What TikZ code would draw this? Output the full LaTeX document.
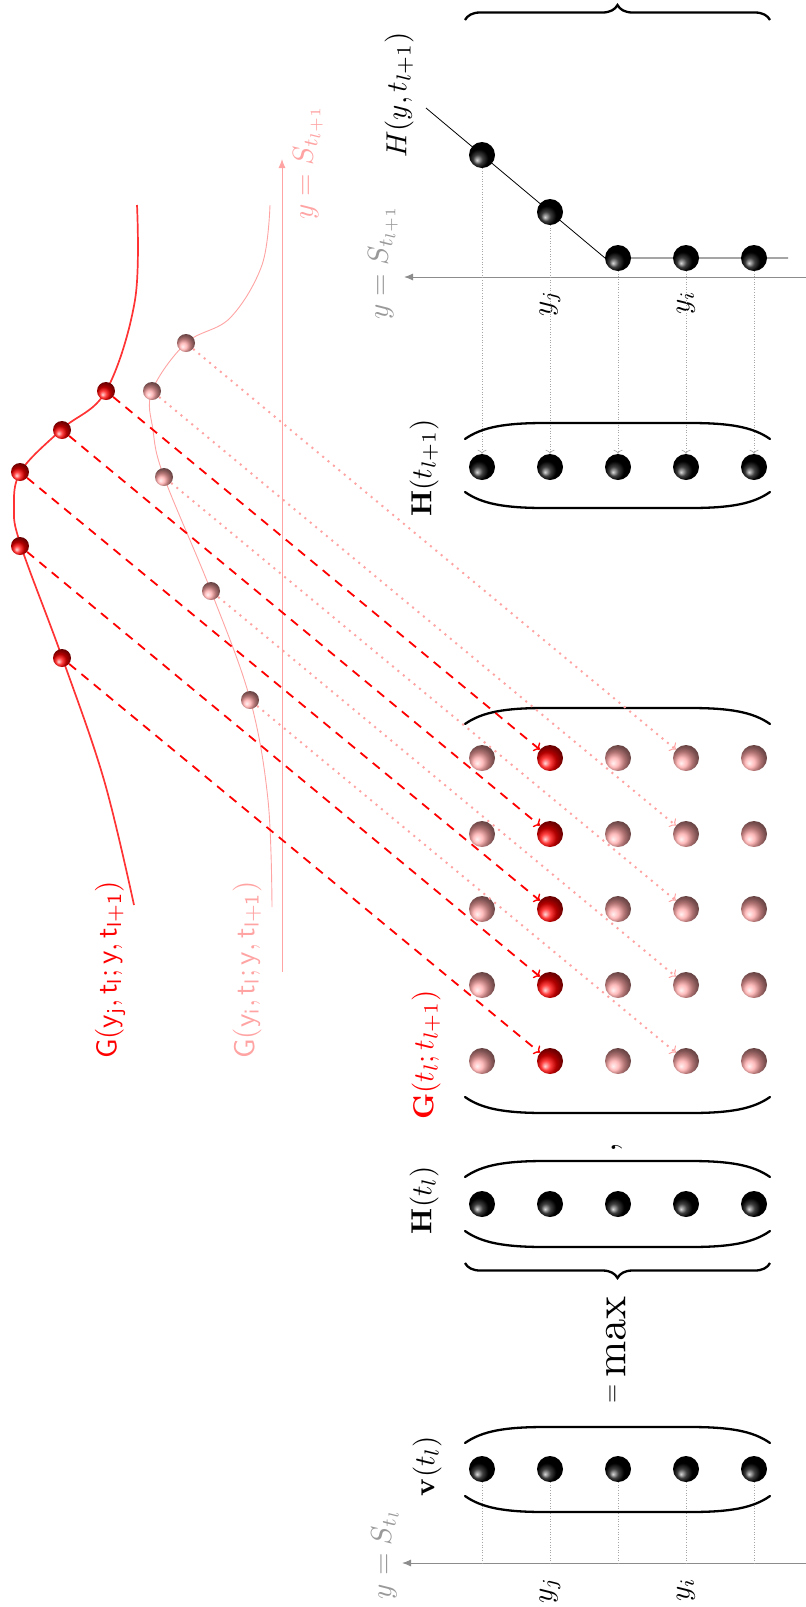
\documentclass[tikz,border=0pt]{standalone}
\usetikzlibrary{arrows.meta,decorations.pathreplacing}
\definecolor{pinkc}{rgb}{1,0.64,0.64}
\definecolor{curvered}{rgb}{1,0.2,0.2}
\definecolor{axisgray}{gray}{0.55}
\definecolor{labgray}{gray}{0.6}
\tikzset{
  lab/.style={rotate=90, scale=2.9, inner sep=0pt},
  bigball/.style={circle, inner sep=0pt, minimum size=26pt, shading angle=90},
  smallball/.style={circle, inner sep=0pt, minimum size=18pt, shading angle=90},
  vparen/.style={line width=2.3pt, line cap=round},
  bigbrace/.style={line width=2.3pt, decorate, decoration={brace, amplitude=15pt}},
  axisline/.style={draw=axisgray, line width=1pt, -{Latex[length=9pt,width=7pt]}},
  guide/.style={draw=gray!70, line width=0.8pt, dash pattern=on 0.8pt off 1.8pt},
  guidearrow/.style={guide, -{Computer Modern Rightarrow[length=4pt,width=9pt,line width=0.7pt]}},
  redlink/.style={draw=red, line width=1.8pt, dash pattern=on 9pt off 7pt,
    -{Computer Modern Rightarrow[length=5pt,width=11pt,line width=1.4pt]}},
  pinklink/.style={draw=pinkc, line width=2pt, dash pattern=on 2pt off 5pt,
    -{Computer Modern Rightarrow[length=5pt,width=11pt,line width=1pt]}}
}
% parentheses around a horizontal row of balls: top flat y, bottom flat y
\newcommand\rowparens[2]{%
  \draw[vparen] (465,#1+16) .. controls (482,#1+4) and (505,#1) .. (545,#1)
     -- (690,#1) .. controls (730,#1) and (753,#1+4) .. (770,#1+16);
  \draw[vparen] (465,#2-16) .. controls (482,#2-4) and (505,#2) .. (545,#2)
     -- (690,#2) .. controls (730,#2) and (753,#2-4) .. (770,#2-16);
}
\begin{document}
\begin{tikzpicture}[x=1pt,y=-1pt]
\useasboundingbox (0,0) rectangle (806,1607);

% ---------- value function H(y,t_{l+1}) ----------
\coordinate (topaxR) at (806,277);
\coordinate (topaxL) at (404,277);
\draw[axisline] (topaxR) -- (topaxL);
\node[lab, text=labgray] at (383,262) {$y=S_{t_{l+1}}$};
\draw[line width=0.8pt] (426,108) -- (605,258) -- (788,258);
\node[lab] at (399,95) {$H(y,t_{l+1})$};
\node[lab] at (550,303) {$y_j$};
\node[lab] at (686,303) {$y_i$};
\foreach \i/\x/\y in {1/482/155,2/550/212,3/618/258,4/686/258,5/754/258}
  \node[bigball, ball color=black] (p\i) at (\x,\y) {};

% ---------- H(t_{l+1}) ----------
\node[lab] at (424,468) {$\mathbf{H}(t_{l+1})$};
\foreach \i/\x in {1/482,2/550,3/618,4/686,5/754}{
  \node[bigball, ball color=black] (h\i) at (\x,467) {};
  \draw[guidearrow] (p\i) -- (h\i);
}
\rowparens{423}{508}
\draw[bigbrace] (465,20) -- (770,20);

% ---------- transition densities ----------
\draw[curvered, line width=1.7pt] plot[smooth, tension=0.6] coordinates
  {(137,205) (135,300) (106,391) (62,429) (21,471) (14,508) (21,546) (62,657) (104,780) (134,905)};
\draw[pinkc, line width=0.9pt] plot[smooth, tension=0.6] coordinates
  {(270,205) (262,265) (230,318) (186,343) (152,391) (153,430) (164,477) (211,591) (250,699) (268,800) (272,907)};
\coordinate (pinkaxB) at (282,972);
\coordinate (pinkaxT) at (282,159);
\draw[pinkc, line width=1pt, -{Latex[length=9pt,width=7pt]}] (pinkaxB) -- (pinkaxT);
\node[lab, text=pinkc] at (308,162) {$y=S_{t_{l+1}}$};
\node[lab, text=red] at (110,970) {$\mathsf{G(y_j, t_l; y, t_{l+1})}$};
\node[lab, text=pinkc] at (247,970) {$\mathsf{G(y_i, t_l; y, t_{l+1})}$};

\foreach \i/\x/\y in {1/106/391,2/62/430,3/20/472,4/20/546,5/62/658}
  \node[smallball, ball color=red] (r\i) at (\x,\y) {};
\foreach \i/\x/\y in {1/186/343,2/152/391,3/164/477,4/211/591,5/250/700}
  \node[smallball, ball color=red!35] (q\i) at (\x,\y) {};

% ---------- G(t_l;t_{l+1}) ----------
\node[lab, text=red] at (426,1055) {$\mathbf{G}(t_l;t_{l+1})$};
\foreach \r/\y in {1/758,2/834,3/909,4/985,5/1061}{
  \node[bigball, ball color=red!35] (g\r1) at (482,\y) {};
  \node[bigball, ball color=red]    (g\r2) at (550,\y) {};
  \node[bigball, ball color=red!35] (g\r3) at (618,\y) {};
  \node[bigball, ball color=red!35] (g\r4) at (686,\y) {};
  \node[bigball, ball color=red!35] (g\r5) at (754,\y) {};
}
\rowparens{708}{1113}
\foreach \r in {1,...,5}{
  \draw[redlink] (r\r) -- (g\r2);
  \draw[pinklink] (q\r) -- (g\r4);
}

% ---------- H(t_l) ----------
\node[lab, scale=1.2] at (617,1148) {$,$};
\node[lab] at (424,1200) {$\mathbf{H}(t_l)$};
\foreach \i/\x in {1/482,2/550,3/618,4/686,5/754}
  \node[bigball, ball color=black] (c\i) at (\x,1204) {};
\rowparens{1161}{1247}
\draw[bigbrace] (770,1263) -- (465,1263);
\node[lab, scale=1.5] at (616,1337) {$\max$};
\node[lab, scale=0.85] at (614,1394) {$=$};

% ---------- v(t_l) ----------
\coordinate (botaxR) at (806,1563);
\coordinate (botaxL) at (402,1563);
\draw[axisline] (botaxR) -- (botaxL);
\node[lab, text=labgray] at (385,1554) {$y=S_{t_l}$};
\node[lab] at (427,1466) {$\mathbf{v}(t_l)$};
\foreach \i/\x in {1/482,2/550,3/618,4/686,5/754}{
  \node[bigball, ball color=black] (v\i) at (\x,1469) {};
  \draw[guide] (v\i) -- (v\i |- botaxR);
}
\rowparens{1427}{1512}
\node[lab] at (550,1590) {$y_j$};
\node[lab] at (686,1590) {$y_i$};
\end{tikzpicture}
\end{document}
